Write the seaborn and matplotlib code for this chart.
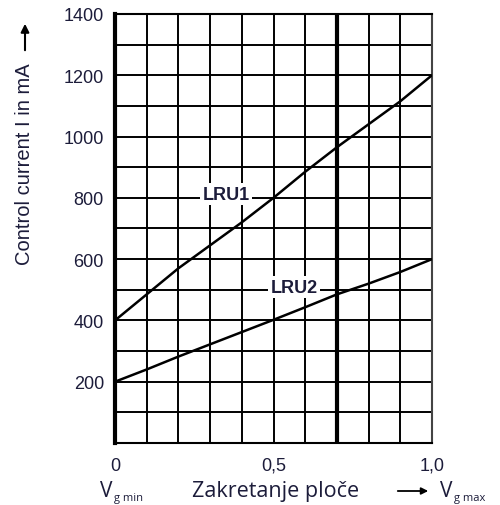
import numpy as np
import pandas as pd
import matplotlib
matplotlib.use("Agg")
import matplotlib.pyplot as plt
import seaborn as sns

# ---- data ----
x_pos = [0.0, 0.1, 0.2, 0.3, 0.4, 0.5, 0.6, 0.7, 0.8, 0.9, 1.0]
lru1 = [400, 485, 570, 645, 720, 800, 885, 965, 1040, 1115, 1200]
lru2 = [200, 240, 282, 322, 362, 402, 443, 485, 520, 558, 600]
y_ticks = [200, 400, 600, 800, 1000, 1200, 1400]
x_ticks = [0.0, 0.5, 1.0]
x_tick_labels = ["0", "0,5", "1,0"]
series_names = ["LRU1", "LRU2"]

df = pd.DataFrame({
    "x": x_pos * 2,
    "I": lru1 + lru2,
    "series": [series_names[0]] * len(x_pos) + [series_names[1]] * len(x_pos),
})

sns.set_style("white")
plt.rcParams["font.family"] = ["Liberation Sans", "DejaVu Sans"]

TXT = "#1c1c3a"

fig = plt.figure(figsize=(5.0, 5.06), dpi=100)
ax = fig.add_axes([0.23, 0.1225, 0.634, 0.848])

sns.lineplot(data=df, x="x", y="I", hue="series", palette=["black", "black"],
             linewidth=1.8, legend=False, ax=ax, zorder=3)

ax.set_xlim(0, 1.0)
ax.set_ylim(0, 1400)

# grid
for gx in np.arange(0.1, 1.0, 0.1):
    lw = 3.0 if abs(gx - 0.7) < 1e-6 else 1.4
    ax.axvline(gx, color="black", lw=lw, zorder=1)
for gy in np.arange(100, 1400, 100):
    ax.axhline(gy, color="black", lw=1.4, zorder=1)

for side in ["top", "right", "bottom"]:
    ax.spines[side].set_color("black")
    ax.spines[side].set_linewidth(1.5)
ax.spines["right"].set_color("#444444")
ax.spines["left"].set_color("black")
ax.spines["left"].set_linewidth(3.0)

ax.set_yticks(y_ticks)
ax.set_yticklabels([str(v) for v in y_ticks], fontsize=13, color=TXT)
ax.set_xticks(x_ticks)
ax.set_xticklabels(x_tick_labels, fontsize=13, color=TXT)
ax.tick_params(axis="y", length=0, pad=8)
ax.tick_params(axis="x", length=0, pad=10)
ax.set_xlabel("")
ax.set_ylabel("")

bbox = dict(facecolor="white", edgecolor="none", pad=1.5)
ax.text(0.35, 812, series_names[0], fontsize=13, fontweight="bold",
        ha="center", va="center", color=TXT, bbox=bbox, zorder=4)
ax.text(0.565, 509, series_names[1], fontsize=13, fontweight="bold",
        ha="center", va="center", color=TXT, bbox=bbox, zorder=4)

# y axis label with arrow
fig.text(0.05, 1 - 164 / 506, "Control current I in mA", rotation=90,
         fontsize=14.5, ha="center", va="center", color=TXT)
fig.add_artist(matplotlib.patches.FancyArrowPatch(
    (0.05, 1 - 54 / 506), (0.05, 1 - 22 / 506), transform=fig.transFigure,
    arrowstyle="-|>", mutation_scale=12, lw=1.5, color="black"))

# x axis label row
yrow = 1 - 492 / 506
fig.text(100 / 500, yrow, "V", fontsize=15, ha="left", va="center",
         color=TXT, family=["Open Sans", "DejaVu Sans"])
fig.text(114 / 500, yrow - 0.013, "g min", fontsize=8, ha="left", va="center",
         color=TXT, family=["Open Sans", "DejaVu Sans"])
fig.text(276 / 500, yrow, "Zakretanje plo\u010de", fontsize=15.5, ha="center",
         va="center", color=TXT, family=["Open Sans", "DejaVu Sans"])
fig.add_artist(matplotlib.patches.FancyArrowPatch(
    (395 / 500, yrow), (431 / 500, yrow), transform=fig.transFigure,
    arrowstyle="-|>", mutation_scale=10, lw=1.3, color="black"))
fig.text(440 / 500, yrow, "V", fontsize=15, ha="left", va="center",
         color=TXT, family=["Open Sans", "DejaVu Sans"])
fig.text(454 / 500, yrow - 0.013, "g max", fontsize=8, ha="left", va="center",
         color=TXT, family=["Open Sans", "DejaVu Sans"])

fig.savefig("out.png", dpi=100, facecolor="white")
